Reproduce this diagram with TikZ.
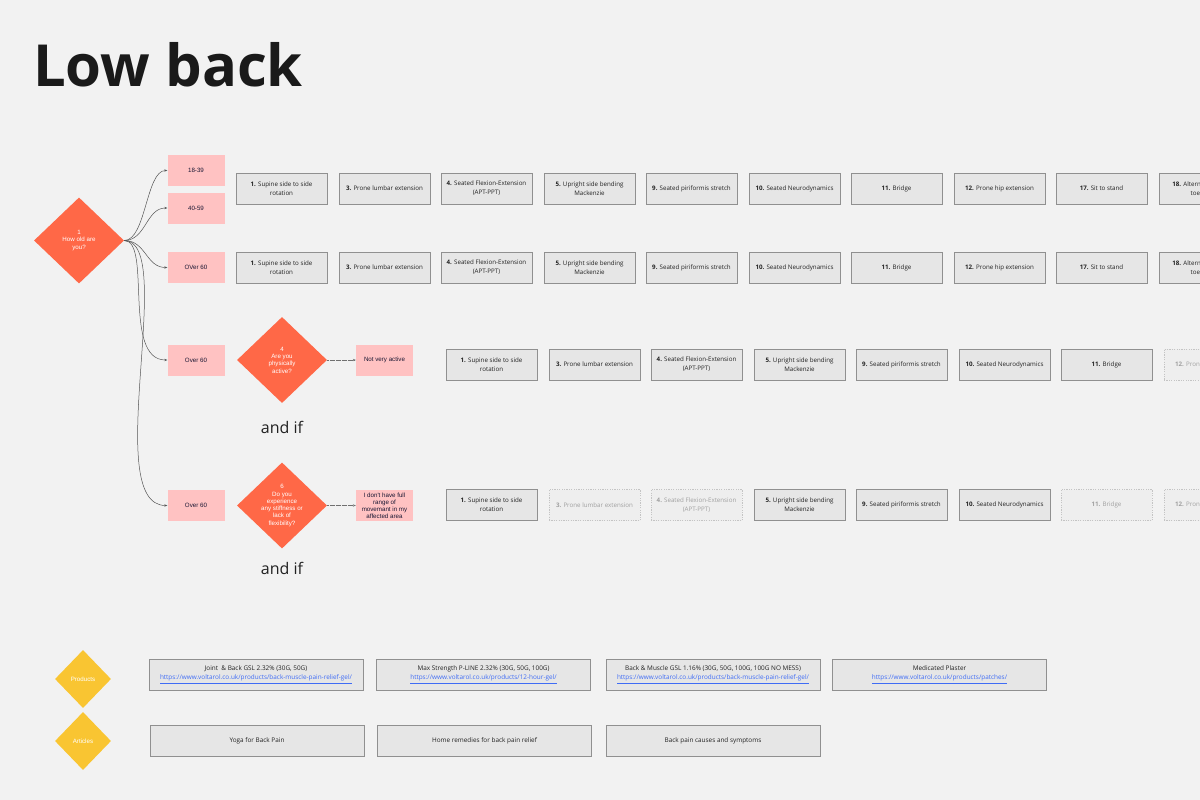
\documentclass[tikz,border=0pt]{standalone}
\usepackage{fontspec}
\setmainfont{Open Sans}
\newfontfamily\osans{Open Sans}
\newfontfamily\arial{Liberation Sans}
\usetikzlibrary{shapes.geometric,arrows.meta}
\definecolor{bgc}{HTML}{F2F2F2}
\definecolor{boxfill}{HTML}{E6E6E6}
\definecolor{boxline}{HTML}{909090}
\definecolor{dashfill}{HTML}{EEEEEE}
\definecolor{dashline}{HTML}{C4C4C4}
\definecolor{dashtext}{HTML}{A0A0A0}
\definecolor{pinkc}{HTML}{FFC2C2}
\definecolor{navy}{HTML}{1A1733}
\definecolor{orangec}{HTML}{FF6847}
\definecolor{yellowc}{HTML}{F9C532}
\definecolor{linkc}{HTML}{3F6CF5}
\definecolor{titlec}{HTML}{1A1A1A}
\definecolor{textc}{HTML}{222222}
\definecolor{conc}{HTML}{555555}
\definecolor{dconc}{HTML}{707070}
\tikzset{
  gbox/.style={rectangle, draw=boxline, fill=boxfill, line width=0.8pt,
    minimum width=91pt, minimum height=31pt, align=center, inner sep=1pt,
    text=textc, font=\osans\fontsize{6.2}{9}\selectfont},
  dbox/.style={gbox, draw=dashline, dash pattern=on 1.2pt off 1.2pt, fill=dashfill, text=dashtext},
  pbox/.style={rectangle, fill=pinkc, minimum width=57pt, minimum height=31pt,
    align=center, inner sep=1pt, text=navy, font=\arial\fontsize{6.2}{7.2}\selectfont},
  qdia/.style={diamond, fill=orangec, inner sep=0pt, minimum width=90pt, minimum height=86pt},
  ydia/.style={diamond, fill=yellowc, inner sep=0pt, minimum width=56pt, minimum height=58pt},
  qtext/.style={align=center, text=white, inner sep=0pt, font=\arial\fontsize{6.2}{7.3}\selectfont},
  wbox/.style={rectangle, draw=boxline, fill=boxfill, line width=0.8pt,
    minimum width=214pt, minimum height=31pt, align=center, inner sep=1pt,
    text=textc, font=\osans\fontsize{6.4}{9.2}\selectfont},
  con/.style={draw=conc, line width=0.5pt, -{Stealth[length=3pt,width=2.4pt]}},
  dcon/.style={draw=dconc, line width=0.6pt, dash pattern=on 0.6pt off 0.6pt, -{Stealth[length=3pt,width=2.4pt]}},
  andif/.style={inner sep=0pt, anchor=base, text=textc, font=\osans\fontsize{16}{18}\selectfont}
}
\newcommand{\lnk}[1]{\textcolor{linkc}{\underline{#1}}}
\begin{document}
\begin{tikzpicture}[x=1pt,y=-1pt]
\fill[bgc] (0,0) rectangle (1200,800);
\useasboundingbox (0,0) rectangle (1200,800);
\clip (0,0) rectangle (1200,800);

% title
\node[anchor=base west, inner sep=0pt, text=titlec, font=\osans\bfseries\fontsize{58}{60}\selectfont] (title) at (33,86) {Low back};

% question 1
\node[qdia] (d1) at (79,240.5) {};
\node[qtext] (d1t) at (79,240.5) {1\\How old are\\you?};

% age boxes
\node[pbox] (a1) at (196,170.5) {18-39};
\node[pbox] (a2) at (196,208) {40-59};
\node[pbox] (a3) at (196,267.5) {OVer 60};
\node[pbox] (a4) at (196,360) {Over 60};
\node[pbox] (a5) at (196,505.5) {Over 60};

\draw[con] (d1.east) .. controls (146,240.5) and (146,170.5) .. (a1.west);
\draw[con] (d1.east) .. controls (146,240.5) and (146,208) .. (a2.west);
\draw[con] (d1.east) .. controls (146,240.5) and (146,267.5) .. (a3.west);
\draw[con] (d1.east) .. controls (152,240.5) and (122,360) .. (a4.west);
\draw[con] (d1.east) .. controls (178,240.5) and (100,505.5) .. (a5.west);

% rows 1 and 2
\foreach \y/\r in {188.5/r1, 267.5/r2}{
  \node[gbox] (\r a) at (281.5,\y) {\textbf{1.} Supine side to side\\rotation};
  \node[gbox] (\r b) at (384.5,\y) {\textbf{3.} Prone lumbar extension};
  \node[gbox] (\r c) at (486.5,\y) {\textbf{4.} Seated Flexion-Extension\\(APT-PPT)};
  \node[gbox] (\r d) at (589.5,\y) {\textbf{5.} Upright side bending\\Mackenzie};
  \node[gbox] (\r e) at (691.5,\y) {\textbf{9.} Seated piriformis stretch};
  \node[gbox] (\r f) at (794.5,\y) {\textbf{10.} Seated Neurodynamics};
  \node[gbox] (\r g) at (896.5,\y) {\textbf{11.} Bridge};
  \node[gbox] (\r h) at (999.5,\y) {\textbf{12.} Prone hip extension};
  \node[gbox] (\r i) at (1101.5,\y) {\textbf{17.} Sit to stand};
  \node[gbox] (\r j) at (1204.5,\y) {\textbf{18.} Alternate heel and\\toe raises};
}

% question 4
\node[qdia] (d4) at (282,360) {};
\node[qtext] (d4t) at (282,360) {4\\Are you\\physically\\active?};
\node[pbox] (n4) at (384.5,360) {Not very active};
\draw[dcon] (d4.east) -- (n4.west);
\node[andif] (and1) at (282,433) {and if};

\node[gbox] (r3a) at (491.5,364.5) {\textbf{1.} Supine side to side\\rotation};
\node[gbox] (r3b) at (594.5,364.5) {\textbf{3.} Prone lumbar extension};
\node[gbox] (r3c) at (696.5,364.5) {\textbf{4.} Seated Flexion-Extension\\(APT-PPT)};
\node[gbox] (r3d) at (799.5,364.5) {\textbf{5.} Upright side bending\\Mackenzie};
\node[gbox] (r3e) at (901.5,364.5) {\textbf{9.} Seated piriformis stretch};
\node[gbox] (r3f) at (1004.5,364.5) {\textbf{10.} Seated Neurodynamics};
\node[gbox] (r3g) at (1106.5,364.5) {\textbf{11.} Bridge};
\node[dbox] (r3h) at (1209.5,364.5) {\textbf{12.} Prone hip extension};

% question 6
\node[qdia] (d6) at (282,505.5) {};
\node[qtext] (d6t) at (282,505.5) {6\\Do you\\experience\\any stiffness or\\lack of\\flexibility?};
\node[pbox, font=\arial\fontsize{6.2}{6.9}\selectfont] (n6) at (384.5,505.5) {I don't have full\\range of\\movemant in my\\affected area};
\draw[dcon] (d6.east) -- (n6.west);
\node[andif] (and2) at (282,574) {and if};

\node[gbox] (r4a) at (491.5,505) {\textbf{1.} Supine side to side\\rotation};
\node[dbox] (r4b) at (594.5,505) {\textbf{3.} Prone lumbar extension};
\node[dbox] (r4c) at (696.5,505) {\textbf{4.} Seated Flexion-Extension\\(APT-PPT)};
\node[gbox] (r4d) at (799.5,505) {\textbf{5.} Upright side bending\\Mackenzie};
\node[gbox] (r4e) at (901.5,505) {\textbf{9.} Seated piriformis stretch};
\node[gbox] (r4f) at (1004.5,505) {\textbf{10.} Seated Neurodynamics};
\node[dbox] (r4g) at (1106.5,505) {\textbf{11.} Bridge};
\node[dbox] (r4h) at (1209.5,505) {\textbf{12.} Prone hip extension};

% products
\node[ydia] (prod) at (83,679) {};
\node[qtext] (prodt) at (83,679) {Products};
\node[wbox] (p1) at (256,674.5) {Joint\ \ \& Back GSL 2.32\% (30G, 50G)\\\lnk{https://www.voltarol.co.uk/products/back-muscle-pain-relief-gel/}};
\node[wbox] (p2) at (483.5,674.5) {Max Strength P-LINE 2.32\% (30G, 50G, 100G)\\\lnk{https://www.voltarol.co.uk/products/12-hour-gel/}};
\node[wbox] (p3) at (713,674.5) {Back \& Muscle GSL 1.16\% (30G, 50G, 100G, 100G NO MESS)\\\lnk{https://www.voltarol.co.uk/products/back-muscle-pain-relief-gel/}};
\node[wbox] (p4) at (939.5,674.5) {Medicated Plaster\\\lnk{https://www.voltarol.co.uk/products/patches/}};

% articles
\node[ydia] (art) at (83,741) {};
\node[qtext] (artt) at (83,741) {Articles};
\node[wbox] (ar1) at (257,741) {Yoga for Back Pain};
\node[wbox] (ar2) at (484.5,741) {Home remedies for back pain relief};
\node[wbox] (ar3) at (713,741) {Back pain causes and symptoms};
\end{tikzpicture}
\end{document}
